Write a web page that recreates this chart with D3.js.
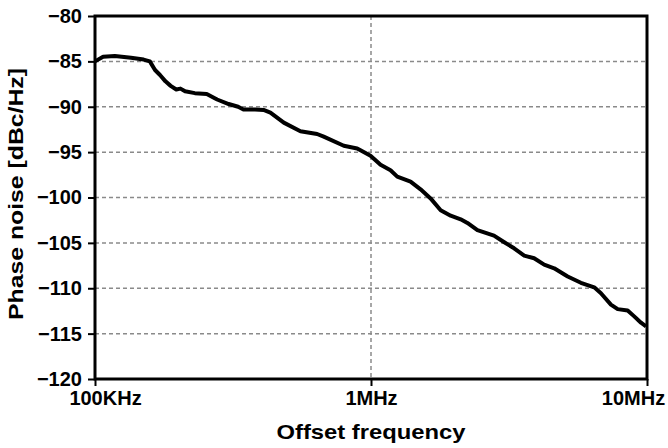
<!DOCTYPE html>
<html>
<head>
<meta charset="utf-8">
<script src="https://cdn.jsdelivr.net/npm/d3@7"></script>
<style>
  body { margin: 0; background: #fff; }
  text { font-family: "Liberation Sans", Arial, sans-serif; font-weight: bold; fill: #000; }
</style>
</head>
<body>
<div id="chart"></div>
<script>
// Data (offset frequency in Hz, phase noise in dBc/Hz)
const freq = [1.00e5, 1.07e5, 1.18e5, 1.35e5, 1.50e5, 1.58e5, 1.65e5, 1.72e5, 1.80e5, 1.88e5,
  1.97e5, 2.04e5, 2.12e5, 2.30e5, 2.54e5, 2.77e5, 3.05e5, 3.30e5, 3.45e5, 3.80e5,
  4.08e5, 4.32e5, 4.83e5, 5.55e5, 6.38e5, 6.74e5, 7.97e5, 8.91e5, 9.16e5, 9.96e5,
  1.083e6, 1.177e6, 1.245e6, 1.391e6, 1.512e6, 1.644e6, 1.788e6, 1.944e6, 2.113e6, 2.235e6,
  2.43e6, 2.79e6, 3.03e6, 3.30e6, 3.59e6, 3.90e6, 4.24e6, 4.61e6, 5.16e6, 5.76e6,
  6.44e6, 6.81e6, 7.40e6, 7.83e6, 8.51e6, 8.99e6, 9.51e6, 9.92e6];
const noise = [-85.0, -84.5, -84.4, -84.6, -84.8, -85.0, -85.95, -86.5, -87.2, -87.7,
  -88.1, -88.0, -88.3, -88.5, -88.6, -89.2, -89.7, -90.0, -90.3, -90.3,
  -90.35, -90.65, -91.75, -92.7, -93.0, -93.3, -94.3, -94.6, -94.8, -95.4,
  -96.4, -97.0, -97.7, -98.25, -99.1, -100.1, -101.4, -102.0, -102.4, -102.8,
  -103.6, -104.2, -104.9, -105.6, -106.4, -106.7, -107.4, -107.8, -108.7, -109.4,
  -109.9, -110.55, -111.8, -112.3, -112.45, -113.1, -113.8, -114.2];

const yTicks = [-120, -115, -110, -105, -100, -95, -90, -85, -80];
const xTicks = [1e5, 1e6, 1e7];
const xTickLabels = ["100KHz", "1MHz", "10MHz"];

const margin = {top: 16, right: 21, bottom: 69, left: 95};
const width = 668 - margin.left - margin.right;
const height = 448 - margin.top - margin.bottom;

const svg = d3.select("#chart")
  .append("svg")
    .attr("width", 668)
    .attr("height", 448);

const g = svg.append("g")
  .attr("transform", "translate(" + margin.left + "," + margin.top + ")");

// Scales
const x = d3.scaleLog().domain([1e5, 1e7]).range([0, width]);
const y = d3.scaleLinear().domain([-120, -80]).range([height, 0]);

// Horizontal grid
g.selectAll(".hgrid")
  .data(yTicks.filter(d => d > -120 && d < -80))
  .enter().append("line")
    .attr("x1", 0).attr("x2", width)
    .attr("y1", d => y(d)).attr("y2", d => y(d))
    .attr("stroke", "#8a8a8a")
    .attr("stroke-width", 1.5)
    .attr("stroke-dasharray", "4,3");

// Vertical grid (only the middle decade)
g.selectAll(".vgrid")
  .data(xTicks.slice(1, -1))
  .enter().append("line")
    .attr("x1", d => x(d)).attr("x2", d => x(d))
    .attr("y1", 0).attr("y2", height)
    .attr("stroke", "#8a8a8a")
    .attr("stroke-width", 1.5)
    .attr("stroke-dasharray", "4,3");

// Phase noise trace
const line = d3.line()
  .x((d, i) => x(freq[i]))
  .y(d => y(d));

g.append("path")
  .datum(noise)
  .attr("fill", "none")
  .attr("stroke", "#000")
  .attr("stroke-width", 4)
  .attr("stroke-linejoin", "round")
  .attr("d", line);

// Y axis
const yAxis = g.append("g")
  .call(d3.axisLeft(y).tickValues(yTicks).tickSize(7).tickFormat(d3.format("d")));
yAxis.select(".domain").remove();
yAxis.selectAll(".tick line").attr("stroke", "#000").attr("stroke-width", 2);
yAxis.selectAll(".tick text")
  .attr("x", -13)
  .style("font-size", "20px")
  .style("font-family", "'Liberation Sans', Arial, sans-serif");

// X axis
const xAxis = g.append("g")
  .attr("transform", "translate(0," + height + ")")
  .call(d3.axisBottom(x).tickValues(xTicks).tickSize(7).tickFormat((d, i) => xTickLabels[i]));
xAxis.select(".domain").remove();
xAxis.selectAll(".tick line").attr("stroke", "#000").attr("stroke-width", 2);
xAxis.selectAll(".tick text")
  .attr("y", 12)
  .attr("dx", (d, i) => i === 0 ? 10 : (i === xTicks.length - 1 ? -14 : 0))
  .style("font-size", "20px")
  .style("font-family", "'Liberation Sans', Arial, sans-serif");

// Frame
g.append("rect")
  .attr("width", width)
  .attr("height", height)
  .attr("fill", "none")
  .attr("stroke", "#000")
  .attr("stroke-width", 3);

// X-Axis Label
svg.append("text")
  .attr("x", margin.left + width / 2)
  .attr("y", 439)
  .attr("text-anchor", "middle")
  .attr("textLength", 189)
  .attr("lengthAdjust", "spacingAndGlyphs")
  .style("font-size", "21px")
  .text("Offset frequency");

// Y-Axis Label
svg.append("text")
  .attr("transform", "translate(23,194) rotate(-90)")
  .attr("text-anchor", "middle")
  .attr("textLength", 252)
  .attr("lengthAdjust", "spacingAndGlyphs")
  .style("font-size", "21px")
  .text("Phase noise [dBc/Hz]");
</script>
</body>
</html>
